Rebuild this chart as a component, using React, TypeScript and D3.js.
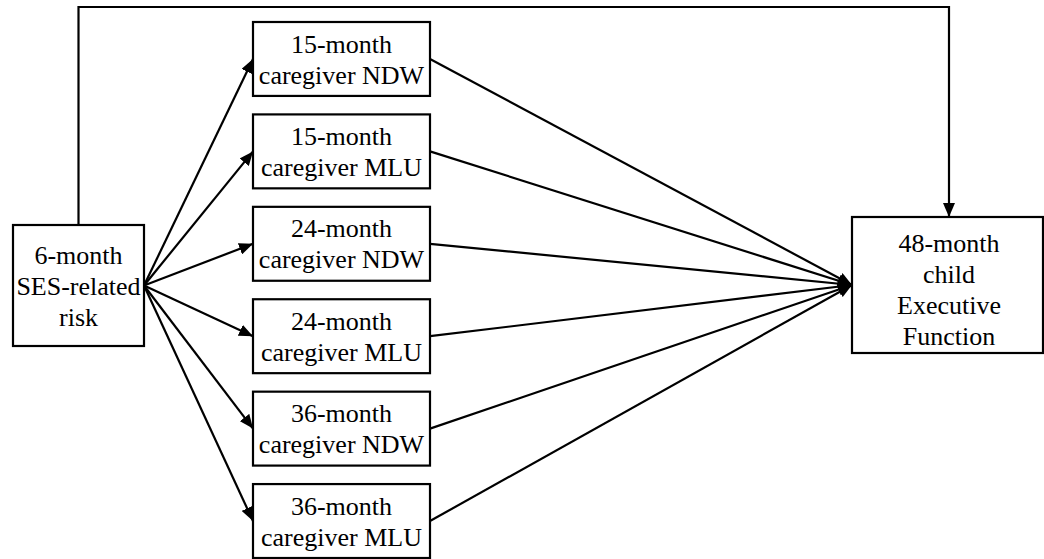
import React from 'react';
import * as d3 from 'd3';

// path model: predictor -> 6 caregiver language measures -> outcome
const predictorLines = ['6-month', 'SES-related', 'risk'];
const mediatorAges = ['15-month', '15-month', '24-month', '24-month', '36-month', '36-month'];
const mediatorMeasures = ['caregiver NDW', 'caregiver MLU', 'caregiver NDW', 'caregiver MLU', 'caregiver NDW', 'caregiver MLU'];
const outcomeLines = ['48-month', 'child', 'Executive', 'Function'];

const W = 1044;
const H = 559;
const FONT = 26;
const LH = 31;

export default function App() {
  const ids = mediatorAges.map((_, i) => `m${i}`);
  const yBand = d3.scaleBand<string>().domain(ids).range([22, 558]).paddingInner(0.2);

  const pred = { x0: 13, x1: 144, y0: 225, y1: 346 };
  const med = { x0: 253, x1: 430 };
  const out = { x0: 852, x1: 1043, y0: 217, y1: 353 };
  const topY = 7;

  const predCy = (pred.y0 + pred.y1) / 2;
  const outCy = 285;
  const predCx = (pred.x0 + pred.x1) / 2;
  const outCx = 949;

  const line = d3.line<[number, number]>();

  const textBlock = (lines: string[], cx: number, cy: number) =>
    lines.map((t, i) => (
      <text
        key={i}
        x={cx}
        y={cy + (i - (lines.length - 1) / 2) * LH + FONT * 0.35}
        textAnchor="middle"
        style={{ fontFamily: '"Liberation Serif", "Times New Roman", Times, serif', fontSize: FONT }}
        fill="#000"
      >
        {t}
      </text>
    ));

  return (
    <svg width={W} height={H} style={{ position: 'absolute', left: 0, top: 0 }}>
      <defs>
        <marker
          id="arr"
          markerUnits="userSpaceOnUse"
          viewBox="0 0 14 12"
          refX={14}
          refY={6}
          markerWidth={14}
          markerHeight={12}
          orient="auto"
        >
          <path d="M0,0 L14,6 L0,12 Z" fill="#000" />
        </marker>
      </defs>
      <rect width={W} height={H} fill="#fff" />

      {/* direct path over the top */}
      <path
        d={line([[predCx, pred.y0], [predCx, topY], [outCx, topY], [outCx, out.y0]]) || ''}
        fill="none"
        stroke="#000"
        strokeWidth={2.2}
        markerEnd="url(#arr)"
      />

      {ids.map((id, i) => {
        const y0 = yBand(id)!;
        const bw = yBand.bandwidth();
        const cy = y0 + bw / 2;
        return (
          <g key={id}>
            <path
              d={line([[pred.x1, predCy], [med.x0, cy]]) || ''}
              stroke="#000"
              strokeWidth={2.2}
              fill="none"
              markerEnd="url(#arr)"
            />
            <path
              d={line([[med.x1, cy], [out.x0, outCy]]) || ''}
              stroke="#000"
              strokeWidth={2.2}
              fill="none"
              markerEnd="url(#arr)"
            />
            <rect x={med.x0} y={y0} width={med.x1 - med.x0} height={bw} fill="#fff" stroke="#000" strokeWidth={2.2} />
            {textBlock([mediatorAges[i], mediatorMeasures[i]], (med.x0 + med.x1) / 2, cy)}
          </g>
        );
      })}

      <rect x={pred.x0} y={pred.y0} width={pred.x1 - pred.x0} height={pred.y1 - pred.y0} fill="#fff" stroke="#000" strokeWidth={2.2} />
      {textBlock(predictorLines, predCx, predCy)}

      <rect x={out.x0} y={out.y0} width={out.x1 - out.x0} height={out.y1 - out.y0} fill="#fff" stroke="#000" strokeWidth={2.2} />
      {textBlock(outcomeLines, outCx, 289)}
    </svg>
  );
}
